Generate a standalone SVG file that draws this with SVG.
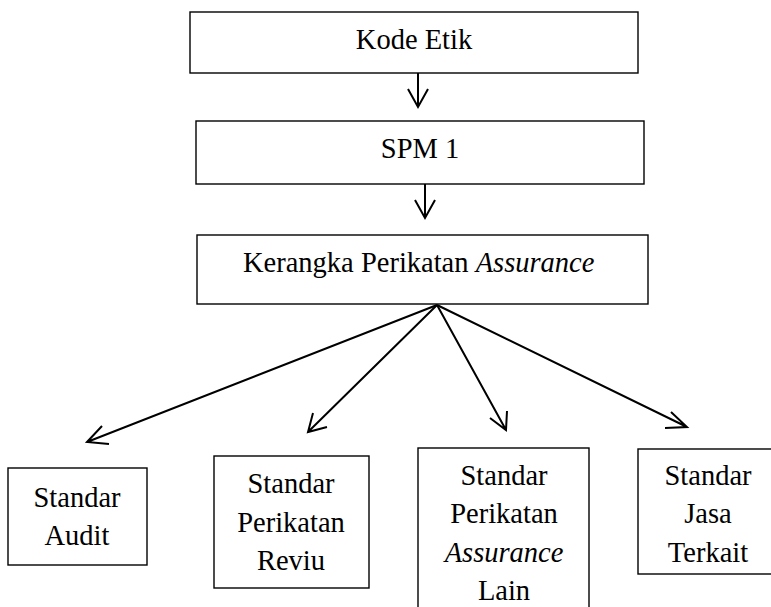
<svg xmlns="http://www.w3.org/2000/svg" width="771" height="607" viewBox="0 0 771 607">
<rect width="771" height="607" fill="#fff"/>
<g id="connectors" stroke="#000" stroke-width="2" fill="none">
<path d="M418,73 V107 M408,89 L418,107 L428,89"/>
<path d="M425,184 V218 M415,200 L425,218 L435,200"/>
<path d="M437,305 L87,442 M102,426 L87,442 L109,444"/>
<path d="M437,305 L308,432 M313,413 L308,432 L327,427"/>
<path d="M437,305 L506,430 M490,418 L506,430 L507,411"/>
<path d="M437,305 L687,427 M671,412 L687,427 L665,428"/>
</g>
<g id="kode-etik">
<rect x="190" y="12" width="448" height="61" fill="#fff" stroke="#000" stroke-width="1.4"/>
<text x="414" y="49" style="font-family:'Liberation Serif';font-size:28.5px" text-anchor="middle">Kode Etik</text>
</g>
<g id="spm1">
<rect x="196" y="121" width="448" height="63" fill="#fff" stroke="#000" stroke-width="1.4"/>
<text x="420" y="158" style="font-family:'Liberation Serif';font-size:28.5px" text-anchor="middle">SPM 1</text>
</g>
<g id="kerangka">
<rect x="197" y="235" width="451" height="69" fill="#fff" stroke="#000" stroke-width="1.4"/>
<text x="243" y="272" style="font-family:'Liberation Serif';font-size:28.5px">Kerangka Perikatan <tspan style="font-style:italic">Assurance</tspan></text>
</g>
<g id="standar-audit">
<rect x="8" y="468" width="139" height="97" fill="#fff" stroke="#000" stroke-width="1.4"/>
<text x="77" y="507" style="font-family:'Liberation Serif';font-size:28.5px" text-anchor="middle">Standar</text>
<text x="77" y="545" style="font-family:'Liberation Serif';font-size:28.5px" text-anchor="middle">Audit</text>
</g>
<g id="standar-reviu">
<rect x="214" y="456" width="155" height="132" fill="#fff" stroke="#000" stroke-width="1.4"/>
<text x="291" y="493" style="font-family:'Liberation Serif';font-size:28.5px" text-anchor="middle">Standar</text>
<text x="291" y="532" style="font-family:'Liberation Serif';font-size:28.5px" text-anchor="middle">Perikatan</text>
<text x="291" y="570" style="font-family:'Liberation Serif';font-size:28.5px" text-anchor="middle">Reviu</text>
</g>
<g id="standar-lain">
<rect x="418" y="448" width="171" height="170" fill="#fff" stroke="#000" stroke-width="1.4"/>
<text x="504" y="485" style="font-family:'Liberation Serif';font-size:28.5px" text-anchor="middle">Standar</text>
<text x="504" y="523" style="font-family:'Liberation Serif';font-size:28.5px" text-anchor="middle">Perikatan</text>
<text x="504" y="562" style="font-family:'Liberation Serif';font-size:28.5px;font-style:italic" text-anchor="middle">Assurance</text>
<text x="504" y="600" style="font-family:'Liberation Serif';font-size:28.5px" text-anchor="middle">Lain</text>
</g>
<g id="standar-jasa">
<rect x="638" y="449" width="150" height="125" fill="#fff" stroke="#000" stroke-width="1.4"/>
<text x="708" y="485" style="font-family:'Liberation Serif';font-size:28.5px" text-anchor="middle">Standar</text>
<text x="708" y="523" style="font-family:'Liberation Serif';font-size:28.5px" text-anchor="middle">Jasa</text>
<text x="708" y="562" style="font-family:'Liberation Serif';font-size:28.5px" text-anchor="middle">Terkait</text>
</g>
</svg>
